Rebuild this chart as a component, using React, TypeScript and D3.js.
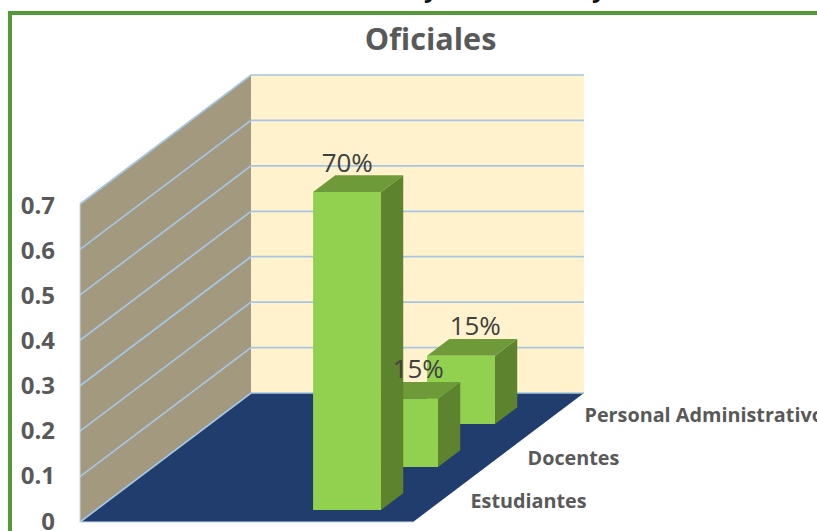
import React from "react";
import * as d3 from "d3";

const categories = ["Estudiantes", "Docentes", "Personal Administrativo"];
const values = [0.7, 0.15, 0.15];
const valueLabels = ["70%", "15%", "15%"];
const ticks = [0, 0.1, 0.2, 0.3, 0.4, 0.5, 0.6, 0.7];
const title = "Oficiales";

const W = 817, H = 531;
const FONT = "'Open Sans', 'Noto Sans', sans-serif";

// projection
const yScale = d3.scaleLinear().domain([0, 0.7]).range([0, 318]);
const tickBaseline = d3.scaleLinear().domain([0, 0.7]).range([529.5, 214]);
const xFront = d3.scaleLinear().domain([0, 1]).range([80, 413]);
const depth = d3.scaleLinear().domain([0, 3]).range([0, 1]);
const DX = 171, DY = 129;
const px = (x: number, z: number, v: number): [number, number] => [
  xFront(x) + depth(z) * DX,
  522 - depth(z) * DY - yScale(v),
];
const poly = (pts: [number, number][]) => d3.line()(pts)! + "Z";

const X0 = 0.652, X1 = 0.856, Z0 = 0.28, Z1 = 0.67;

export default function App() {
  const grid = "#a5c6e4";
  const top3 = ticks[ticks.length - 1];
  const order = categories.map((_, i) => i);
  return (
    <svg width={W} height={H} style={{ position: "fixed", left: 0, top: 0, background: "#fff" }}>
      {/* descenders of the cropped heading above the frame */}
      <text x={424} y={-3} fontFamily={FONT} fontSize={24} fontWeight={700} fill="#111">y</text>
      <text x={592} y={-3} fontFamily={FONT} fontSize={24} fontWeight={700} fill="#111">y</text>

      <rect x={10} y={13} width={W + 20} height={H + 20} fill="#fff" stroke="#559a38" strokeWidth={4} />
      <text x={430.5} y={50} textAnchor="middle" fontFamily={FONT} fontSize={30.6} fontWeight={700} fill="#595959">{title}</text>

      {/* walls */}
      <path d={poly([px(0, 0, 0), px(0, 3, 0), px(0, 3, top3), px(0, 0, top3)])} fill="#a2997f" />
      <path d={poly([px(0, 3, 0), px(1, 3, 0), px(1, 3, top3), px(0, 3, top3)])} fill="#fff2cc" />
      <path d={poly([px(0, 0, 0), px(1, 0, 0), px(1, 3, 0), px(0, 3, 0)])} fill="#213d6e" />

      {ticks.map((t) => {
        const a = px(0, 0, t), b = px(0, 3, t), c = px(1, 3, t);
        return (
          <g key={t}>
            <path d={d3.line()([a, b, c])!} fill="none" stroke={grid} strokeWidth={1.7} />
            <text x={55} y={tickBaseline(t)} textAnchor="end" fontFamily={FONT} fontSize={24} fontWeight={700} fill="#595959">{t}</text>
          </g>
        );
      })}
      <path d={d3.line()([px(0, 0, top3), px(0, 0, 0), px(1, 0, 0)])!} fill="none" stroke="#c9d9e8" strokeWidth={1} />

      {/* bars, back to front */}
      {[...order].reverse().map((i) => {
        const v = values[i];
        const z0 = i + Z0, z1 = i + Z1;
        return (
          <g key={i}>
            <path d={poly([px(X1, z0, 0), px(X1, z1, 0), px(X1, z1, v), px(X1, z0, v)])} fill="#5e832e" />
            <path d={poly([px(X0, z0, v), px(X1, z0, v), px(X1, z1, v), px(X0, z1, v)])} fill="#6f9a39" />
            <path d={poly([px(X0, z0, 0), px(X1, z0, 0), px(X1, z0, v), px(X0, z0, v)])} fill="#92d050" />
          </g>
        );
      })}

      {/* value labels sit on top of every bar */}
      {order.map((i) => {
        const lab = px((X0 + X1) / 2, i + Z1, values[i]);
        const dx = i === 0 ? -22 : -8;
        const dy = i === 0 ? -3 : -4;
        return (
          <text key={i} x={lab[0] + dx} y={lab[1] + dy} textAnchor="middle" fontFamily={FONT} fontSize={26} fontWeight={500} fill="#404040">{valueLabels[i]}</text>
        );
      })}

      {categories.map((c, i) => {
        const p = px(1, i + 0.5, 0);
        return (
          <text key={c} x={p[0] + 29} y={p[1] + 7} fontFamily={FONT} fontSize={19.8} fontWeight={700} fill="#595959">{c}</text>
        );
      })}
    </svg>
  );
}
